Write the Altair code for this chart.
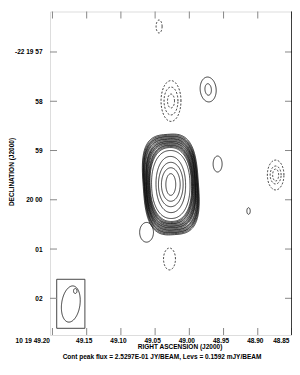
import numpy as np
import pandas as pd
import altair as alt

# ---------------- data ----------------
ra_ticks = [49.20, 49.15, 49.10, 49.05, 49.00, 48.95, 48.90, 48.85]
dec_ticks = [57, 58, 59, 60, 61, 62]
dec_labels = ['-22 19 57', '58', '59', '20 00', '01', '02']
ra_domain = [48.85, 49.2036]
dec_domain = [56.178, 62.745]

RA_S_PER_ARCSEC = 1 / 13.875

main_ra = 49.0271
main_dec = 59.690
main_a = [0.10, 0.19, 0.25, 0.30, 0.39, 0.42, 0.43, 0.44, 0.45, 0.46, 0.47,
          0.48, 0.49, 0.495, 0.50, 0.51, 0.52, 0.53, 0.535, 0.54, 0.55, 0.56]
main_b = [0.22, 0.34, 0.45, 0.57, 0.69, 0.75, 0.77, 0.79, 0.80, 0.82, 0.84,
          0.85, 0.87, 0.88, 0.90, 0.92, 0.93, 0.95, 0.97, 0.98, 1.00, 1.02]
main_n = [2.0, 2.0, 2.05, 2.1, 2.2, 2.3, 2.35, 2.4, 2.45, 2.5, 2.55,
          2.6, 2.65, 2.7, 2.75, 2.8, 2.85, 2.9, 2.95, 3.0, 3.05, 3.1]
main_pa = [0, 0, 0, 1, 1, 2, 2, 2, 2, 3, 3, 3, 3, 3, 3, 4, 4, 4, 4, 4, 4, 4]

oth_ra = [49.0442, 49.0268, 49.0268, 49.0268, 48.9725, 48.9725, 48.9587,
          48.8739, 48.8739, 48.8739, 48.9135, 49.0290, 49.0625, 49.1732, 49.1667]
oth_dec = [56.482, 57.995, 57.995, 57.995, 57.761, 57.761, 59.274,
           59.497, 59.497, 59.497, 60.228, 61.202, 60.660, 62.116, 61.852]
oth_a = [0.061, 0.202, 0.141, 0.071, 0.162, 0.065, 0.091,
         0.168, 0.111, 0.061, 0.034, 0.121, 0.14, 0.186, 0.035]
oth_b = [0.131, 0.414, 0.283, 0.141, 0.253, 0.117, 0.162,
         0.303, 0.182, 0.121, 0.067, 0.222, 0.20, 0.370, 0.05]
oth_pa = [0, 0, 0, 0, 5, 5, 0, 0, 0, 0, 0, 0, 0, -8, 0]
oth_style = ['dashed', 'dashed', 'dashed', 'dashed', 'solid', 'solid', 'solid',
             'dashed', 'dashed', 'dashed', 'solid', 'dashed', 'solid', 'solid', 'solid']

beam_box_ra = [49.1938, 49.1526]
beam_box_dec = [61.614, 62.609]

footer = "Cont peak flux =  2.5297E-01 JY/BEAM, Levs = 0.1592 mJY/BEAM"

# ---------------- build outlines ----------------
def outline(ra0, dec0, a, b, pa, n, k=140):
    t = np.linspace(0, 2 * np.pi, k + 1)
    c, s = np.cos(t), np.sin(t)
    X = a * np.sign(c) * np.abs(c) ** (2 / n)
    Y = b * np.sign(s) * np.abs(s) ** (2 / n)
    th = np.radians(pa)
    xo = X * np.cos(th) - Y * np.sin(th)
    yo = X * np.sin(th) + Y * np.cos(th)
    return ra0 - xo * RA_S_PER_ARCSEC, dec0 - yo

rows = []
cid = 0
for a, b, n, pa in zip(main_a, main_b, main_n, main_pa):
    r, d = outline(main_ra, main_dec, a, b, pa, n)
    for i, (rr, dd) in enumerate(zip(r, d)):
        rows.append((cid, i, rr, dd, 'solid'))
    cid += 1
for ra0, dec0, a, b, pa, st in zip(oth_ra, oth_dec, oth_a, oth_b, oth_pa, oth_style):
    r, d = outline(ra0, dec0, a, b, pa, 2.0, k=80)
    for i, (rr, dd) in enumerate(zip(r, d)):
        rows.append((cid, i, rr, dd, st))
    cid += 1
cont = pd.DataFrame(rows, columns=['cid', 'i', 'ra', 'dec', 'style'])

W, H = 242, 323.5
xs = alt.Scale(domain=ra_domain, reverse=True, nice=False, zero=False)
ys = alt.Scale(domain=dec_domain, reverse=True, nice=False, zero=False)

lab_expr = "datum.value > 49.19 ? '10 19 49.20' : format(datum.value, '.2f')"
dec_expr = ""
for v, l in zip(dec_ticks, dec_labels):
    dec_expr += f"datum.value == {v} ? '{l}' : "
dec_expr += "''"

FONT = "Liberation Sans"

x_axis = alt.Axis(values=ra_ticks, labelExpr=lab_expr, ticks=False, domain=False, grid=False,
                  labelFont=FONT, labelFontSize=6.5, labelFontWeight='bold', labelColor='black',
                  labelPadding=2, labelFlush=False, labelOverlap=False, labelOffset=-3,
                  labelAlign={"condition": {"test": "datum.value > 49.19 || datum.value < 48.86",
                                            "value": "right"},
                              "value": "center"},
                  title='RIGHT ASCENSION (J2000)', titleFont=FONT, titleFontSize=6.5,
                  titleFontWeight='bold', titleColor='black', titleX=129.5, titleY=11,
                  titleAnchor='middle', titleBaseline='middle', titleAlign='center')
y_axis = alt.Axis(values=dec_ticks, labelExpr=dec_expr, ticks=False, domain=False, grid=False,
                  labelFont=FONT, labelFontSize=6.5, labelFontWeight='bold', labelColor='black',
                  labelPadding=8, labelOverlap=False, labelFlush=False,
                  title='DECLINATION (J2000)', titleFont=FONT, titleFontSize=6.5,
                  titleFontWeight='bold', titleColor='black', titleX=-39, titleY=160,
                  titleAngle=270, titleBaseline='middle', titleAlign='center')

def X(f):
    return alt.X(f, scale=xs, axis=x_axis)

def Y(f):
    return alt.Y(f, scale=ys, axis=y_axis)

contours = alt.Chart(cont).mark_line(strokeWidth=0.8, color='#0a0a0a').encode(
    x=X('ra:Q'), y=Y('dec:Q'),
    detail='cid:N',
    order='i:Q',
    strokeDash=alt.StrokeDash('style:N', scale=alt.Scale(domain=['solid', 'dashed'],
                                                          range=[[1, 0], [2, 1.6]]), legend=None),
)

box_df = pd.DataFrame({'ra': [beam_box_ra[0]], 'ra2': [beam_box_ra[1]],
                       'dec': [beam_box_dec[0]], 'dec2': [beam_box_dec[1]]})
box = alt.Chart(box_df).mark_rect(fill=None, stroke='#333', strokeWidth=0.9).encode(
    x=X('ra:Q'), x2='ra2:Q', y=Y('dec:Q'), y2='dec2:Q')

rt = pd.DataFrame({'ra': ra_ticks})
dt = pd.DataFrame({'dec': dec_ticks})
TC = '#888'
tick_top = alt.Chart(rt).mark_rule(color=TC, strokeWidth=1).encode(
    x=X('ra:Q'), y=alt.value(0), y2=alt.value(7))
tick_bot = alt.Chart(rt).mark_rule(color=TC, strokeWidth=1).encode(
    x=X('ra:Q'), y=alt.value(H), y2=alt.value(H - 7))
tick_l = alt.Chart(dt).mark_rule(color=TC, strokeWidth=1).encode(
    y=Y('dec:Q'), x=alt.value(0), x2=alt.value(7))
tick_r = alt.Chart(dt).mark_rule(color=TC, strokeWidth=1).encode(
    y=Y('dec:Q'), x=alt.value(W - 7), x2=alt.value(W))
right_edge = alt.Chart(pd.DataFrame({'k': [0]})).mark_rule(color='black', strokeWidth=1.5).encode(
    x=alt.value(W), y=alt.value(0), y2=alt.value(H))

foot = alt.Chart(pd.DataFrame({'t': [footer]})).mark_text(
    font=FONT, fontSize=6.5, fontWeight='bold', color='black', align='center', baseline='middle'
).encode(text='t:N', x=alt.value(112), y=alt.value(345.5))

chart = alt.layer(contours, box, tick_top, tick_bot, tick_l, tick_r, right_edge, foot).properties(
    width=W, height=H,
    autosize=alt.AutoSizeParams(type='none'),
    padding={'left': 42, 'top': 3.5, 'right': 0, 'bottom': 26},
).configure_view(stroke='#808080', strokeWidth=1.5).configure(background='white')

chart.save("out.html", embed_options={"renderer": "svg", "actions": False})
